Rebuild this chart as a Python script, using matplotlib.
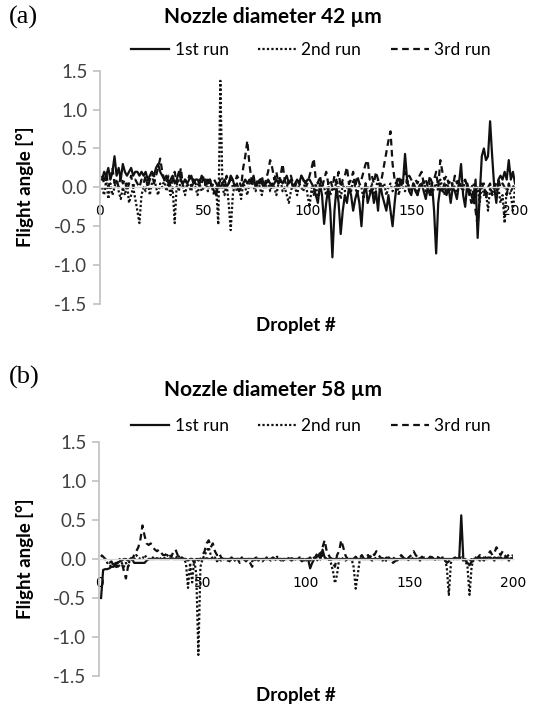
import matplotlib
matplotlib.use('Agg')
import matplotlib.pyplot as plt
from matplotlib.lines import Line2D

droplets = list(range(1, 201))
x_ticks = [0, 50, 100, 150, 200]
y_ticks = [-1.5, -1.0, -0.5, 0.0, 0.5, 1.0, 1.5]
y_ticklabels = ['-1.5', '-1.0', '-0.5', '0.0', '0.5', '1.0', '1.5']
series_names = ['1st run', '2nd run', '3rd run']
titles = ['Nozzle diameter 42 µm', 'Nozzle diameter 58 µm']
panel_tags = ['(a)', '(b)']

# Panel (a): nozzle 42 µm
a_run1 = [0.10, 0.20, 0.15, 0.25, 0.10, 0.20, 0.40, 0.15, 0.25, 0.10,
          0.30, 0.20, 0.15, 0.20, 0.25, 0.15, 0.20, 0.20, 0.15, 0.20,
          0.15, 0.20, 0.10, 0.15, 0.20, 0.15, 0.25, 0.30, 0.20, 0.15,
          0.10, 0.15, 0.05, 0.10, 0.15, 0.05, 0.10, 0.20, 0.10, 0.05,
          0.10, 0.05, 0.10, 0.15, 0.05, 0.10, 0.10, 0.05, 0.15, 0.10,
          0.10, 0.05, 0.10, 0.00, -0.05, -0.10, 0.05, 0.00, 0.05, 0.10,
          0.00, 0.05, 0.15, 0.10, 0.00, 0.05, -0.05, 0.00, 0.05, 0.10,
          0.05, 0.10, 0.05, 0.15, 0.00, 0.05, 0.10, 0.05, 0.00, 0.05,
          0.10, 0.05, 0.00, 0.05, 0.10, 0.05, 0.10, 0.05, 0.10, 0.15,
          0.05, 0.10, 0.00, 0.05, 0.10, 0.05, 0.15, 0.10, 0.05, 0.10,
          0.10, 0.05, 0.00, -0.10, -0.20, 0.05, -0.10, -0.47, -0.20, 0.00,
          -0.30, -0.90, -0.30, 0.00, -0.20, -0.60, -0.30, -0.10, -0.20, 0.00,
          -0.10, -0.30, -0.15, -0.05, -0.20, -0.50, -0.10, 0.05, -0.20, -0.10,
          0.00, -0.20, -0.05, -0.30, 0.05, -0.10, -0.20, -0.30, -0.10, -0.30,
          -0.50, -0.20, 0.05, 0.00, 0.10, 0.05, 0.43, 0.10, -0.05, -0.10,
          0.05, -0.05, -0.10, 0.00, 0.05, -0.05, -0.15, 0.00, -0.10, 0.05,
          -0.30, -0.85, -0.20, 0.00, -0.05, 0.05, -0.10, 0.00, -0.20, 0.00,
          -0.05, -0.15, 0.05, 0.30, -0.10, -0.25, 0.05, -0.05, -0.10, -0.20,
          0.10, -0.65, -0.10, 0.40, 0.50, 0.35, 0.40, 0.85, 0.40, 0.00,
          -0.20, 0.10, 0.15, 0.10, 0.20, 0.10, 0.35, 0.10, 0.20, 0.05]

a_run2 = [0.00, -0.10, 0.10, -0.15, 0.05, -0.10, 0.00, 0.10, -0.05, -0.15,
          0.00, -0.10, 0.05, -0.20, -0.10, 0.00, -0.15, -0.30, -0.46, -0.10,
          0.00, -0.05, 0.10, -0.10, 0.05, 0.15, 0.00, -0.10, 0.05, 0.00,
          0.10, -0.05, 0.05, -0.10, 0.00, -0.46, 0.05, -0.05, 0.10, 0.00,
          -0.10, 0.05, 0.00, -0.05, 0.10, 0.00, -0.10, 0.05, -0.05, 0.00,
          0.05, -0.05, 0.10, 0.00, -0.10, 0.00, -0.48, 1.37, 0.00, -0.10,
          0.05, -0.20, -0.55, -0.10, 0.05, -0.05, 0.00, -0.15, 0.05, 0.00,
          -0.10, 0.05, 0.10, 0.00, -0.05, 0.10, 0.00, -0.10, 0.05, 0.00,
          0.10, -0.05, 0.05, 0.00, -0.10, 0.05, 0.10, -0.05, 0.00, -0.10,
          -0.20, -0.05, 0.05, 0.00, -0.10, 0.05, 0.00, -0.05, 0.10, -0.10,
          -0.25, 0.00, -0.10, 0.05, -0.15, -0.05, 0.05, 0.00, -0.10, 0.05,
          -0.10, 0.00, -0.05, 0.10, 0.00, -0.15, 0.05, -0.05, 0.00, 0.05,
          -0.05, 0.10, 0.00, -0.10, 0.05, 0.00, -0.15, 0.05, 0.00, -0.05,
          0.05, -0.10, 0.00, 0.10, -0.05, 0.00, 0.05, -0.10, 0.00, 0.05,
          -0.05, 0.00, 0.10, -0.10, 0.05, 0.00, -0.05, 0.10, 0.00, -0.05,
          0.05, 0.00, -0.10, 0.05, 0.00, 0.10, -0.05, 0.00, 0.05, -0.10,
          0.00, 0.05, -0.05, 0.10, 0.00, -0.10, 0.05, 0.00, -0.05, 0.05,
          0.00, -0.10, 0.05, 0.00, -0.05, 0.10, 0.00, -0.10, 0.00, 0.05,
          -0.10, 0.00, -0.20, 0.05, -0.10, -0.05, -0.30, 0.00, -0.10, 0.05,
          -0.05, 0.00, -0.20, -0.10, -0.46, 0.00, -0.05, -0.10, -0.30, 0.00]

a_run3 = [0.15, 0.05, 0.20, 0.00, 0.10, 0.25, 0.05, 0.10, 0.00, 0.15,
          0.05, 0.10, -0.05, 0.05, 0.15, 0.00, 0.10, 0.05, 0.00, 0.10,
          0.05, 0.15, 0.00, 0.10, 0.20, 0.05, 0.15, 0.25, 0.37, 0.20,
          0.10, 0.05, 0.15, 0.00, 0.10, 0.20, 0.05, 0.10, 0.25, 0.00,
          0.10, 0.05, 0.15, 0.00, 0.10, 0.05, 0.00, 0.10, 0.05, 0.15,
          0.00, 0.10, 0.05, 0.00, 0.10, 0.05, 0.00, 0.10, 0.05, 0.00,
          0.15, 0.05, 0.10, 0.00, 0.05, 0.15, 0.10, 0.00, 0.25, 0.40,
          0.60, 0.30, 0.10, 0.05, 0.00, 0.10, 0.05, 0.15, 0.00, 0.10,
          0.20, 0.35, 0.25, 0.10, 0.20, 0.05, 0.15, 0.30, 0.10, 0.00,
          0.10, 0.15, 0.05, 0.00, 0.10, 0.05, 0.15, 0.10, 0.00, 0.05,
          0.15, 0.25, 0.37, 0.10, 0.05, 0.15, 0.00, 0.10, 0.20, 0.05,
          0.10, 0.00, 0.15, 0.05, 0.20, 0.00, 0.10, 0.15, 0.26, 0.05,
          0.10, 0.20, 0.00, 0.15, 0.05, 0.10, 0.20, 0.30, 0.35, 0.10,
          0.15, 0.05, 0.20, 0.10, 0.00, 0.15, 0.30, 0.45, 0.60, 0.72,
          0.30, 0.10, 0.05, 0.15, 0.00, 0.10, 0.20, 0.05, 0.15, 0.10,
          0.00, 0.10, 0.05, 0.15, 0.20, 0.05, 0.10, 0.00, 0.15, 0.05,
          0.10, 0.20, 0.00, 0.35, 0.20, 0.10, 0.15, 0.05, 0.10, 0.00,
          0.15, 0.05, 0.10, 0.00, 0.05, 0.10, 0.00, -0.10, -0.20, -0.05,
          -0.30, -0.50, -0.10, 0.00, 0.05, -0.15, 0.00, 0.05, -0.10, 0.00,
          0.05, 0.10, 0.00, 0.05, 0.00, -0.10, 0.05, -0.05, 0.00, 0.05]

# Panel (b): nozzle 58 µm
b_run1 = [-0.50, -0.14, -0.13, -0.13, -0.12, -0.10, -0.10, -0.05, -0.05, -0.03,
          -0.02, 0.00, 0.00, -0.02, 0.00, 0.00, -0.05, -0.05, -0.05, -0.05,
          -0.05, -0.05, -0.02, 0.00, 0.00, 0.00, 0.00, 0.01, 0.00, 0.00,
          0.00, 0.00, 0.00, 0.00, 0.01, 0.00, 0.00, 0.00, 0.00, 0.00,
          0.00, 0.00, -0.02, 0.00, 0.00, -0.02, 0.00, 0.00, 0.00, 0.00,
          0.00, 0.01, 0.00, 0.00, 0.00, 0.00, -0.01, 0.00, 0.00, 0.00,
          0.00, 0.00, 0.00, 0.01, 0.00, 0.00, 0.00, 0.00, 0.00, 0.00,
          0.00, 0.00, 0.00, 0.00, 0.00, 0.01, 0.00, 0.00, 0.00, 0.00,
          0.00, 0.00, 0.00, 0.00, 0.00, 0.00, 0.00, 0.00, 0.00, 0.00,
          0.00, 0.00, 0.01, 0.00, 0.00, 0.00, 0.00, 0.00, -0.02, 0.00,
          0.00, -0.12, -0.05, 0.00, 0.02, 0.05, 0.00, 0.12, 0.02, 0.00,
          0.00, 0.01, 0.00, 0.00, 0.00, 0.00, 0.00, 0.00, 0.00, 0.00,
          0.00, 0.00, 0.00, 0.01, 0.00, 0.00, 0.00, 0.00, 0.00, 0.00,
          0.00, 0.00, 0.00, 0.00, 0.00, 0.00, 0.01, 0.00, 0.00, 0.00,
          0.00, 0.00, 0.00, 0.00, 0.00, 0.00, 0.00, 0.00, 0.00, 0.00,
          0.00, 0.00, 0.00, 0.00, 0.01, 0.00, 0.00, 0.00, 0.00, 0.00,
          0.00, 0.00, 0.00, 0.00, 0.00, 0.00, 0.00, 0.00, 0.00, 0.00,
          0.00, 0.00, 0.00, 0.00, 0.56, 0.00, -0.02, -0.05, -0.08, -0.03,
          0.00, 0.01, 0.00, 0.02, 0.00, 0.01, 0.00, 0.02, 0.01, 0.00,
          0.02, 0.01, 0.00, 0.02, 0.00, 0.01, 0.02, 0.00, 0.01, 0.00]

b_run2 = [0.05, 0.02, 0.00, -0.05, -0.08, -0.10, -0.05, -0.12, -0.05, 0.00,
          -0.05, -0.10, -0.05, -0.10, 0.00, 0.02, 0.00, 0.05, 0.02, 0.00,
          0.00, 0.05, 0.02, 0.00, 0.00, 0.02, 0.00, 0.00, 0.02, 0.00,
          0.00, 0.02, 0.05, 0.00, 0.02, 0.00, 0.00, 0.05, 0.02, 0.00,
          0.00, -0.05, -0.37, -0.05, -0.30, 0.00, -0.20, -1.23, -0.10, 0.00,
          0.05, 0.10, 0.15, 0.05, 0.00, 0.02, -0.03, 0.00, -0.02, 0.00,
          0.00, -0.02, 0.00, 0.02, 0.00, -0.03, 0.00, 0.00, 0.02, 0.00,
          -0.02, 0.00, 0.00, -0.03, 0.00, 0.02, 0.00, -0.02, 0.00, 0.00,
          0.02, 0.00, -0.02, 0.00, 0.00, 0.03, 0.00, -0.02, 0.00, 0.00,
          0.00, 0.02, 0.00, -0.02, 0.00, 0.00, 0.02, 0.00, 0.00, -0.02,
          0.00, -0.02, 0.00, 0.02, 0.00, -0.03, 0.00, 0.05, 0.02, 0.00,
          0.00, -0.05, -0.15, -0.31, -0.20, 0.00, 0.02, 0.00, -0.02, 0.00,
          0.00, 0.00, -0.10, -0.38, -0.20, 0.00, 0.02, 0.00, 0.00, 0.02,
          0.00, -0.02, 0.00, 0.02, 0.00, 0.00, -0.02, 0.00, 0.02, 0.00,
          0.00, 0.02, 0.00, -0.02, 0.00, 0.00, 0.02, 0.00, -0.02, 0.00,
          0.00, 0.02, 0.00, 0.00, -0.02, 0.00, 0.02, 0.00, 0.00, 0.00,
          0.02, 0.00, -0.02, 0.00, 0.00, 0.02, 0.00, -0.10, -0.46, -0.05,
          0.00, 0.02, 0.00, 0.00, 0.02, 0.00, -0.02, -0.10, -0.46, -0.10,
          0.00, 0.02, 0.00, -0.02, 0.00, 0.02, 0.00, 0.00, 0.02, 0.00,
          -0.02, 0.00, 0.02, 0.00, 0.00, 0.02, 0.00, -0.02, 0.00, 0.02]

b_run3 = [0.05, 0.03, 0.00, -0.02, -0.05, -0.03, -0.08, -0.05, -0.10, -0.08,
          -0.05, -0.15, -0.25, -0.10, -0.05, 0.00, 0.05, 0.10, 0.15, 0.25,
          0.43, 0.30, 0.20, 0.18, 0.20, 0.15, 0.12, 0.10, 0.12, 0.08,
          0.05, 0.05, 0.08, 0.05, 0.03, 0.10, 0.12, 0.05, 0.00, 0.02,
          0.00, 0.00, -0.02, 0.00, 0.00, -0.05, 0.00, -0.02, 0.00, 0.05,
          0.10, 0.20, 0.24, 0.15, 0.20, 0.10, 0.05, 0.08, 0.02, 0.00,
          -0.02, 0.00, -0.03, 0.00, -0.02, 0.00, 0.00, -0.05, -0.02, 0.00,
          -0.03, 0.00, -0.05, -0.10, -0.02, 0.00, -0.02, 0.00, -0.03, 0.00,
          0.00, -0.02, 0.00, 0.02, 0.00, -0.03, 0.00, 0.00, -0.02, 0.00,
          0.02, 0.00, -0.02, 0.00, 0.00, 0.02, 0.00, -0.03, 0.00, 0.00,
          0.00, 0.02, -0.03, 0.00, 0.05, 0.10, 0.05, 0.15, 0.24, 0.10,
          0.05, 0.00, -0.05, -0.10, 0.05, 0.10, 0.24, 0.15, 0.05, 0.00,
          0.02, 0.00, 0.00, 0.03, 0.00, 0.02, 0.05, 0.00, 0.03, 0.05,
          0.02, 0.08, 0.05, 0.10, 0.05, 0.02, 0.00, -0.05, 0.00, 0.02,
          0.00, -0.05, -0.03, 0.00, 0.02, 0.05, 0.02, -0.03, 0.00, 0.03,
          0.05, 0.10, 0.05, 0.02, 0.00, 0.03, 0.00, 0.02, 0.00, 0.03,
          0.02, 0.00, 0.03, 0.02, 0.00, 0.02, 0.00, -0.05, -0.03, 0.00,
          0.00, 0.02, 0.00, 0.02, 0.00, -0.02, 0.00, -0.05, -0.02, 0.00,
          -0.05, -0.02, 0.02, 0.05, 0.00, -0.02, 0.03, 0.06, 0.10, 0.05,
          0.08, 0.15, 0.10, 0.05, 0.10, 0.05, 0.02, 0.06, 0.03, 0.05]

for arr in (a_run1, a_run2, a_run3, b_run1, b_run2, b_run3):
    assert len(arr) == 200, len(arr)

W, H = 539, 707
fig = plt.figure(figsize=(W / 100, H / 100), dpi=100)

SANS = ['Lato', 'DejaVu Sans']
SERIF = ['Liberation Serif', 'DejaVu Serif']
line_color = '#111111'
styles = [dict(linestyle='-', linewidth=1.6),
          dict(linestyle=(0, (1, 1)), linewidth=1.6),
          dict(linestyle=(0, (3, 2)), linewidth=1.6)]


def px_axes(left, right, top, bottom):
    return fig.add_axes([left / W, 1 - bottom / H, (right - left) / W, (bottom - top) / H])


panels = [
    dict(ax=px_axes(100, 515, 70.7, 304), data=[a_run1, a_run2, a_run3],
         tag_y=17, title_y=17, legend_y=50, xlabel_y=325, ylabel_y=187),
    dict(ax=px_axes(99, 513, 442, 676), data=[b_run1, b_run2, b_run3],
         tag_y=377, title_y=390, legend_y=426, xlabel_y=695, ylabel_y=559),
]

for i, p in enumerate(panels):
    ax = p['ax']
    for vals, st in zip(p['data'], styles):
        ax.plot(droplets, vals, color=line_color, **st)
    ax.set_xlim(0, 200)
    ax.set_ylim(-1.5, 1.5)
    ax.set_yticks(y_ticks)
    ax.set_yticklabels(y_ticklabels, family=SANS, fontsize=13.5, color='#404040')
    ax.set_xticks(x_ticks)
    ax.set_xticklabels([str(v) for v in x_ticks], family=SANS, fontsize=13.5, color='#404040')
    for s in ('top', 'right'):
        ax.spines[s].set_visible(False)
    ax.spines['left'].set_color('#c0c0c0')
    ax.spines['left'].set_linewidth(1.2)
    ax.spines['bottom'].set_position(('data', 0))
    ax.spines['bottom'].set_color('#d9d9d9')
    ax.spines['bottom'].set_linewidth(1.0)
    ax.tick_params(axis='y', direction='out', length=5, width=1.2, color='#c0c0c0', pad=4)
    ax.tick_params(axis='x', length=0, pad=12)
    ax.patch.set_alpha(0)

    fig.text(9 / W, 1 - p['tag_y'] / H, panel_tags[i], family=SERIF, fontsize=19,
             ha='left', va='center')
    fig.text(273 / W, 1 - p['title_y'] / H, titles[i], family=SANS, fontsize=15,
             fontweight='bold', ha='center', va='center')
    fig.text(296 / W, 1 - p['xlabel_y'] / H, 'Droplet #', family=SANS, fontsize=13.5,
             fontweight='bold', ha='center', va='center')
    fig.text(25 / W, 1 - p['ylabel_y'] / H, 'Flight angle [°]', family=SANS, fontsize=13.5,
             fontweight='bold', ha='center', va='center', rotation=90)

    handles = [Line2D([], [], color=line_color, **st) for st in styles]
    fig.legend(handles, series_names, loc='center', ncol=3, frameon=False,
               bbox_to_anchor=(311 / W, 1 - p['legend_y'] / H),
               prop=dict(family=SANS, size=12.5), handlelength=2.2,
               handletextpad=0.3, columnspacing=1.7, borderpad=0, borderaxespad=0)

fig.savefig('out.png', dpi=100)
